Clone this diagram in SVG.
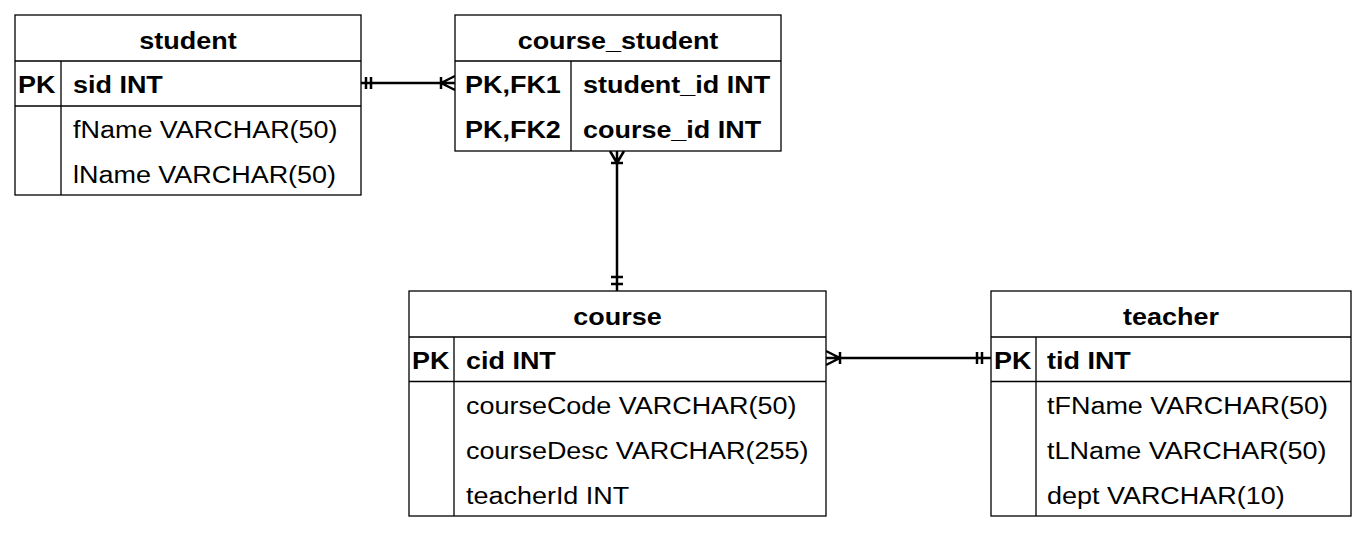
<svg xmlns="http://www.w3.org/2000/svg" width="1367" height="533" viewBox="0 0 1367 533">
<style>
.box{fill:#fff;stroke:#000;stroke-width:1.3}
.ln{stroke:#000;stroke-width:1.3;fill:none}
.t{font-family:"Liberation Sans",Arial,sans-serif;font-size:24.5px;fill:#000}
.b{font-weight:bold}
.c{text-anchor:middle}
.cn{stroke:#000;stroke-width:2.5;fill:none}
</style>
<rect width="1367" height="533" fill="#fff"/>
<g id="connectors">
  <path class="cn" d="M361 83H455M366 77V89M371 77V89M441 77V89M441 83L455 76M441 83L455 90"/>
  <path class="cn" d="M617 151V291M611 163H623M617 163L610 151M617 163L624 151M611 277H623M611 284H623"/>
  <path class="cn" d="M826 358H991M840 352V364M840 358L826 351M840 358L826 365M977 352V364M982 352V364"/>
</g>
<g id="student">
  <rect class="box" x="15" y="15" width="346" height="180"/>
  <path class="ln" d="M15 61H361M15 106H361M61 61V195"/>
  <text class="t b c" transform="translate(188,49) scale(1.1,1)">student</text>
  <text class="t b" transform="translate(18,93) scale(1.1,1)">PK</text>
  <text class="t b" transform="translate(73,93) scale(1.1,1)">sid INT</text>
  <text class="t" transform="translate(73,138) scale(1.1,1)">fName VARCHAR(50)</text>
  <text class="t" transform="translate(73,182.5) scale(1.1,1)">lName VARCHAR(50)</text>
</g>
<g id="course_student">
  <rect class="box" x="455" y="15" width="326" height="136"/>
  <path class="ln" d="M455 61H781M571 61V151"/>
  <text class="t b c" transform="translate(618,49) scale(1.1,1)">course_student</text>
  <text class="t b" transform="translate(465,93) scale(1.1,1)">PK,FK1</text>
  <text class="t b" transform="translate(583,93) scale(1.1,1)">student_id INT</text>
  <text class="t b" transform="translate(465,138) scale(1.1,1)">PK,FK2</text>
  <text class="t b" transform="translate(583,138) scale(1.1,1)">course_id INT</text>
</g>
<g id="course">
  <rect class="box" x="409" y="291" width="417" height="225"/>
  <path class="ln" d="M409 337H826M409 381.5H826M454 337V516"/>
  <text class="t b c" transform="translate(617.5,325) scale(1.1,1)">course</text>
  <text class="t b" transform="translate(412,369) scale(1.1,1)">PK</text>
  <text class="t b" transform="translate(466,369) scale(1.1,1)">cid INT</text>
  <text class="t" transform="translate(466,414) scale(1.1,1)">courseCode VARCHAR(50)</text>
  <text class="t" transform="translate(466,459) scale(1.1,1)">courseDesc VARCHAR(255)</text>
  <text class="t" transform="translate(466,504) scale(1.1,1)">teacherId INT</text>
</g>
<g id="teacher">
  <rect class="box" x="991" y="291" width="360" height="225"/>
  <path class="ln" d="M991 337H1351M991 381.5H1351M1036 337V516"/>
  <text class="t b c" transform="translate(1171,325) scale(1.1,1)">teacher</text>
  <text class="t b" transform="translate(994,369) scale(1.1,1)">PK</text>
  <text class="t b" transform="translate(1047,369) scale(1.1,1)">tid INT</text>
  <text class="t" transform="translate(1047,414) scale(1.1,1)">tFName VARCHAR(50)</text>
  <text class="t" transform="translate(1047,459) scale(1.1,1)">tLName VARCHAR(50)</text>
  <text class="t" transform="translate(1047,504) scale(1.1,1)">dept VARCHAR(10)</text>
</g>
</svg>
